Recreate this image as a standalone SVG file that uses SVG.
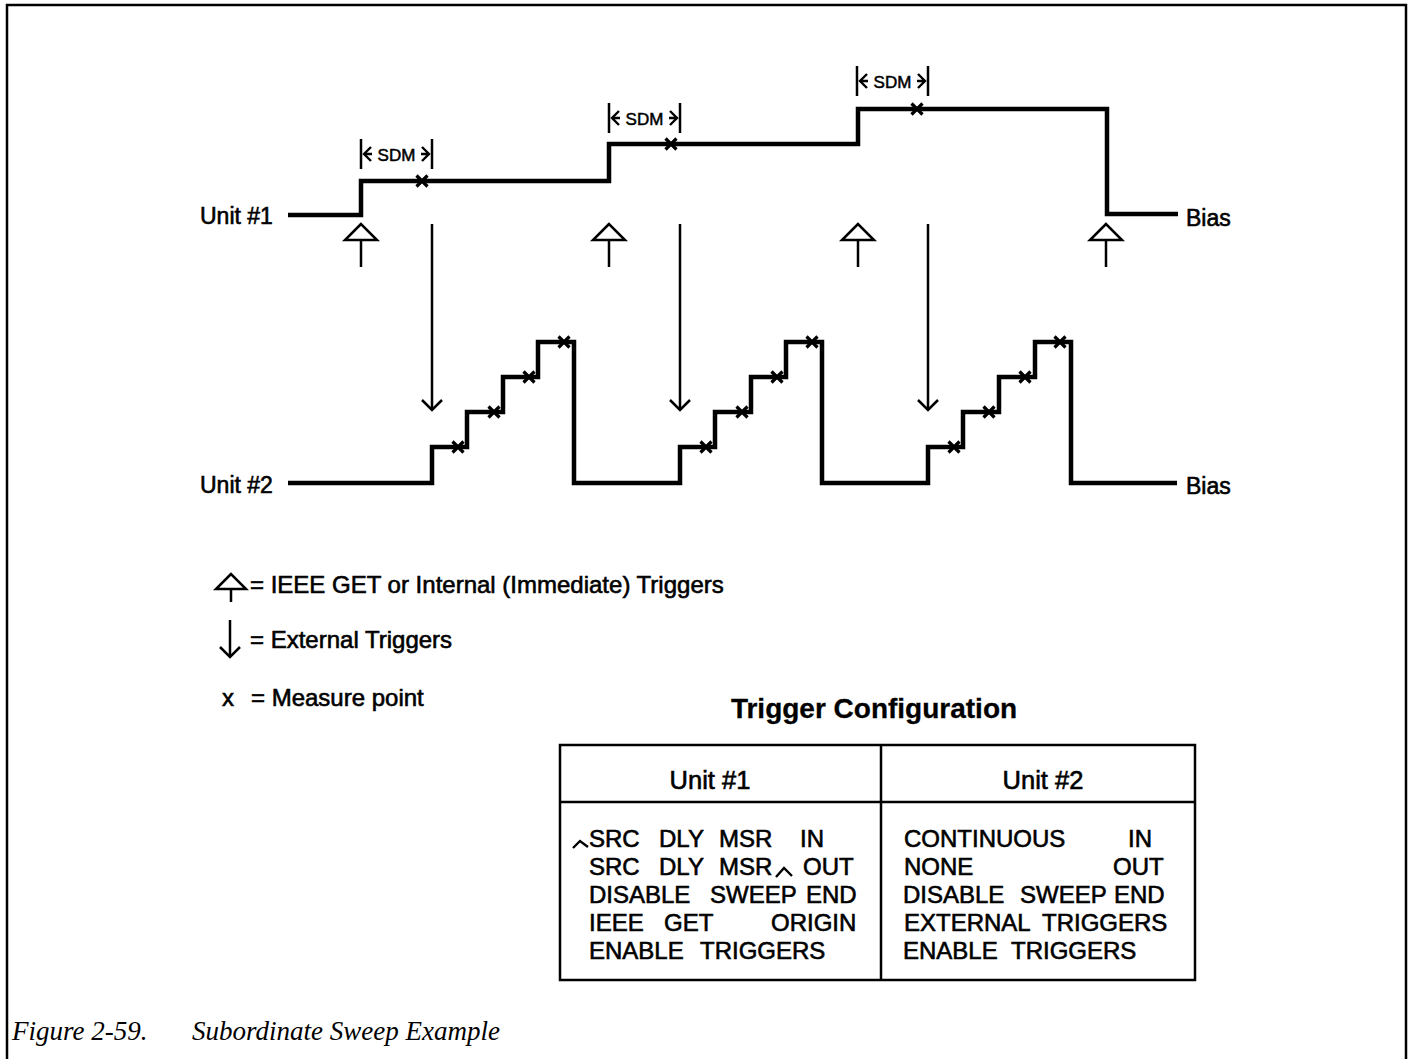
<svg xmlns="http://www.w3.org/2000/svg" width="1409" height="1059" viewBox="0 0 1409 1059">
<style>
.wave{fill:none;stroke:#000;stroke-width:4.5;stroke-linejoin:miter;stroke-linecap:butt}
.thin{fill:none;stroke:#000;stroke-width:2.5}
.hollow{fill:#fff;stroke:#000;stroke-width:2.5;stroke-linejoin:miter}
.mx{fill:none;stroke:#000;stroke-width:3.2}
.frame{fill:none;stroke:#000;stroke-width:2.5}
.sans{font-family:"Liberation Sans",Arial,Helvetica,sans-serif;fill:#000;stroke:#000;stroke-width:0.6}
.lbl{font-size:23px}
.leg{font-size:24px}
.tb{font-size:24px}
.hd{font-size:25.5px;text-anchor:middle}
.ttl{font-size:28px;font-weight:bold;text-anchor:middle;stroke-width:0.3}
.sdm{font-size:17px;text-anchor:middle;stroke-width:0.5}
.cap{font-family:"Liberation Serif","Times New Roman",serif;font-style:italic;font-size:27px;fill:#000}
</style>
<defs>
  <g id="up"><line class="thin" x1="0" y1="16" x2="0" y2="43"/><polygon class="hollow" points="0,0 -16,16 16,16"/></g>
  <g id="dn"><line class="thin" x1="0" y1="0" x2="0" y2="186"/><path class="thin" d="M-10,176 L0,186 L10,176"/></g>
  <path id="xm" class="mx" d="M-5.5,-5.5L5.5,5.5M-5.5,5.5L5.5,-5.5"/>
  <g id="sdm"><line class="thin" x1="0" y1="0" x2="0" y2="30"/><line class="thin" x1="71" y1="0" x2="71" y2="30"/><path fill="none" stroke="#000" stroke-width="2.4" d="M10,8 L3,15 L10,22 M3,15 H11 M61,8 L68,15 L61,22 M68,15 H60"/><text class="sans sdm" x="35.5" y="21.5">SDM</text></g>
</defs>
<rect width="1409" height="1059" fill="#fff"/>
<path class="frame" d="M7,1059 V5 H1406 V1059"/>

<g id="unit1">
  <text class="sans lbl" x="200" y="224">Unit #1</text>
  <path class="wave" d="M288,215 H361 V181 H609 V144 H858 V109 H1107 V214 H1178"/>
  <use href="#xm" x="422" y="181"/>
  <use href="#xm" x="671" y="144"/>
  <use href="#xm" x="917" y="109"/>
  <text class="sans lbl" x="1186" y="226">Bias</text>
</g>

<g id="sdm-markers">
  <use href="#sdm" x="361" y="139"/>
  <use href="#sdm" x="609" y="103"/>
  <use href="#sdm" x="857" y="66"/>
</g>

<g id="unit2">
  <text class="sans lbl" x="200" y="493">Unit #2</text>
  <path class="wave" d="M288,483 H432 V447 H467 V412 H503 V377 H538 V342 H574 V483 H680 V447 H715 V412 H751 V377 H786 V342 H822 V483 H928 V447 H963 V412 H999 V377 H1035 V342 H1071 V483 H1177"/>
  <use href="#xm" x="458" y="447"/><use href="#xm" x="494" y="412"/><use href="#xm" x="529" y="377"/><use href="#xm" x="564" y="342"/>
  <use href="#xm" x="706" y="447"/><use href="#xm" x="742" y="412"/><use href="#xm" x="777" y="377"/><use href="#xm" x="812" y="342"/>
  <use href="#xm" x="954" y="447"/><use href="#xm" x="989" y="412"/><use href="#xm" x="1025" y="377"/><use href="#xm" x="1060" y="342"/>
  <text class="sans lbl" x="1186" y="494">Bias</text>
</g>

<g id="connectors">
  <use href="#up" x="361" y="224"/>
  <use href="#up" x="609" y="224"/>
  <use href="#up" x="858" y="224"/>
  <use href="#up" x="1106" y="224"/>
  <use href="#dn" x="432" y="224"/>
  <use href="#dn" x="680" y="224"/>
  <use href="#dn" x="928" y="224"/>
</g>

<g id="legend">
  <line class="thin" x1="231" y1="589" x2="231" y2="602"/>
  <polygon class="hollow" points="231,574 216,589 246,589"/>
  <text class="sans leg" x="250" y="593">= IEEE GET or Internal (Immediate) Triggers</text>
  <line class="thin" x1="230" y1="620" x2="230" y2="657"/>
  <path class="thin" d="M220,647 L230,657 L240,647"/>
  <text class="sans leg" x="250" y="648">= External Triggers</text>
  <text class="sans leg" x="222" y="706">x</text>
  <text class="sans leg" x="251" y="706">= Measure point</text>
</g>

<g id="trigger-table">
  <text class="sans ttl" x="874" y="718">Trigger Configuration</text>
  <rect class="thin" x="560" y="745" width="635" height="235"/>
  <line class="thin" x1="560" y1="802" x2="1195" y2="802"/>
  <line class="thin" x1="881" y1="745" x2="881" y2="980"/>
  <text class="sans hd" x="710" y="789">Unit #1</text>
  <text class="sans hd" x="1043" y="789">Unit #2</text>

  <path fill="none" stroke="#000" stroke-width="2.4" d="M573,848 L580,841 L588,847"/>
  <text class="sans tb" x="589" y="847">SRC</text>
  <text class="sans tb" x="659" y="847">DLY</text>
  <text class="sans tb" x="719" y="847">MSR</text>
  <text class="sans tb" x="800" y="847">IN</text>

  <text class="sans tb" x="589" y="875">SRC</text>
  <text class="sans tb" x="659" y="875">DLY</text>
  <text class="sans tb" x="719" y="875">MSR</text>
  <path fill="none" stroke="#000" stroke-width="2.4" d="M776,877 L784,868 L792,876"/>
  <text class="sans tb" x="803" y="875">OUT</text>

  <text class="sans tb" x="589" y="903">DISABLE</text>
  <text class="sans tb" x="710" y="903">SWEEP</text>
  <text class="sans tb" x="806" y="903">END</text>

  <text class="sans tb" x="589" y="931">IEEE</text>
  <text class="sans tb" x="664" y="931">GET</text>
  <text class="sans tb" x="771" y="931">ORIGIN</text>

  <text class="sans tb" x="589" y="959">ENABLE</text>
  <text class="sans tb" x="700" y="959">TRIGGERS</text>

  <text class="sans tb" x="904" y="847">CONTINUOUS</text>
  <text class="sans tb" x="1128" y="847">IN</text>
  <text class="sans tb" x="904" y="875">NONE</text>
  <text class="sans tb" x="1113" y="875">OUT</text>
  <text class="sans tb" x="903" y="903">DISABLE</text>
  <text class="sans tb" x="1020" y="903">SWEEP</text>
  <text class="sans tb" x="1114" y="903">END</text>
  <text class="sans tb" x="904" y="931">EXTERNAL</text>
  <text class="sans tb" x="1042" y="931">TRIGGERS</text>
  <text class="sans tb" x="903" y="959">ENABLE</text>
  <text class="sans tb" x="1011" y="959">TRIGGERS</text>
</g>

<g id="caption">
  <text class="cap" x="12" y="1040">Figure 2-59.<tspan x="192">Subordinate Sweep Example</tspan></text>
</g>
</svg>
